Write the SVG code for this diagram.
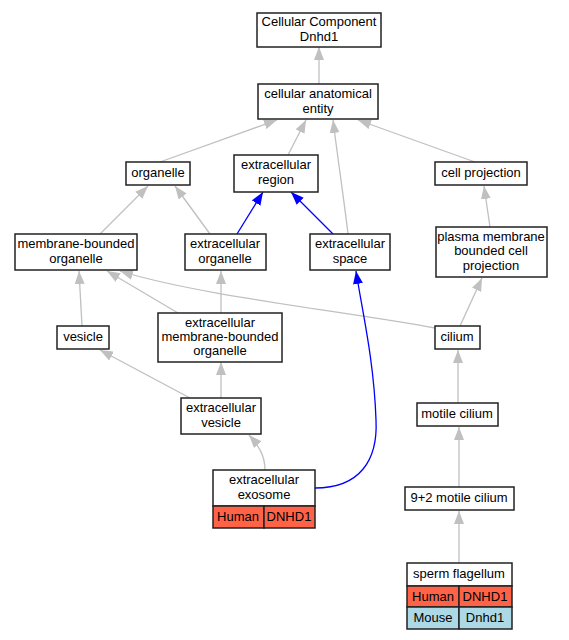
<svg xmlns="http://www.w3.org/2000/svg" width="569" height="640" viewBox="0 0 569 640">
<defs>
<marker id="ag" viewBox="0 0 13 10" refX="13" refY="5" markerWidth="13" markerHeight="10" markerUnits="userSpaceOnUse" orient="auto"><path d="M0,0 L13,5 L0,10 z" fill="#c0c0c0"/></marker>
<marker id="ab" viewBox="0 0 13 10" refX="13" refY="5" markerWidth="13" markerHeight="10" markerUnits="userSpaceOnUse" orient="auto"><path d="M0,0 L13,5 L0,10 z" fill="#0000ff"/></marker>
</defs>
<style>
.n rect{fill:#fff;stroke:#222;stroke-width:1.5}
text{font-family:"Liberation Sans",Arial,sans-serif;font-size:13px;text-anchor:middle;fill:#000}
.g{fill:none;stroke:#c0c0c0;stroke-width:1.3;marker-end:url(#ag)}
.b{fill:none;stroke:#0000ff;stroke-width:1.3;marker-end:url(#ab)}
rect.h{fill:#ff6347}
rect.m{fill:#add8e6}
</style>
<rect width="569" height="640" fill="#fff"/>
<g id="edges">
<path class="g" d="M319,84 L319,47"/>
<path class="g" d="M160,162 L277,120"/>
<path class="g" d="M288,155 L306,120"/>
<path class="g" d="M348,234 C344,200 338,160 333,120"/>
<path class="g" d="M475,162 L358,120"/>
<path class="g" d="M100,234 L148,186"/>
<path class="g" d="M210,234 L175,186"/>
<path class="b" d="M237,234 L263,192"/>
<path class="b" d="M333,234 L291,192"/>
<path class="g" d="M490,227 L484,186"/>
<path class="g" d="M82,326 L79,271"/>
<path class="g" d="M178,313 L107,271"/>
<path class="g" d="M435,328 C350,312 200,296 120,271"/>
<path class="g" d="M221,313 L221,271"/>
<path class="g" d="M460,326 L482,278"/>
<path class="g" d="M190,398 L100,350"/>
<path class="g" d="M221,398 L221,362"/>
<path class="g" d="M458,403 L458,350"/>
<path class="g" d="M265,470 C265,455 258,445 249,435"/>
<path class="b" d="M315,488 C360,488 378,460 376,420 C374,360 362,310 356,271"/>
<path class="g" d="M459,487 L459,427"/>
<path class="g" d="M459,563 L459,511"/>
</g>
<g id="n_cc" class="n"><rect x="257" y="13" width="124" height="34"/><text x="319" y="26">Cellular Component</text><text x="319" y="41">Dnhd1</text></g>
<g id="n_cae" class="n"><rect x="258" y="84" width="120" height="35"/><text x="318" y="98">cellular anatomical</text><text x="318" y="113">entity</text></g>
<g id="n_org" class="n"><rect x="126" y="162" width="64" height="23"/><text x="158" y="177">organelle</text></g>
<g id="n_er" class="n"><rect x="234" y="155" width="84" height="37"/><text x="276" y="169">extracellular</text><text x="276" y="184">region</text></g>
<g id="n_cp" class="n"><rect x="435" y="162" width="92" height="23"/><text x="481" y="177">cell projection</text></g>
<g id="n_mbo" class="n"><rect x="15" y="234" width="122" height="36"/><text x="76" y="248">membrane-bounded</text><text x="76" y="263">organelle</text></g>
<g id="n_eo" class="n"><rect x="185" y="234" width="81" height="36"/><text x="225" y="248">extracellular</text><text x="225" y="263">organelle</text></g>
<g id="n_es" class="n"><rect x="310" y="234" width="80" height="36"/><text x="350" y="248">extracellular</text><text x="350" y="263">space</text></g>
<g id="n_pm" class="n"><rect x="436" y="227" width="111" height="50"/><text x="491" y="241">plasma membrane</text><text x="491" y="255">bounded cell</text><text x="491" y="270">projection</text></g>
<g id="n_ves" class="n"><rect x="57" y="326" width="52" height="23"/><text x="83" y="341">vesicle</text></g>
<g id="n_embo" class="n"><rect x="158" y="313" width="124" height="49"/><text x="220" y="327">extracellular</text><text x="220" y="341">membrane-bounded</text><text x="220" y="355">organelle</text></g>
<g id="n_cil" class="n"><rect x="435" y="326" width="45" height="23"/><text x="457" y="341">cilium</text></g>
<g id="n_ev" class="n"><rect x="181" y="398" width="80" height="36"/><text x="221" y="412">extracellular</text><text x="221" y="427">vesicle</text></g>
<g id="n_mc" class="n"><rect x="417" y="403" width="81" height="23"/><text x="457" y="418">motile cilium</text></g>
<g id="n_exo" class="n"><rect x="213" y="470" width="102" height="36"/><text x="264" y="484">extracellular</text><text x="264" y="499">exosome</text>
<rect class="h" x="213" y="506" width="51" height="22"/><rect class="h" x="264" y="506" width="51" height="22"/><text x="238" y="521">Human</text><text x="289" y="521">DNHD1</text></g>
<g id="n_92" class="n"><rect x="405" y="487" width="109" height="23"/><text x="459" y="502">9+2 motile cilium</text></g>
<g id="n_sf" class="n"><rect x="407" y="563" width="105" height="23"/><text x="459" y="578">sperm flagellum</text>
<rect class="h" x="407" y="586" width="52" height="21"/><rect class="h" x="459" y="586" width="53" height="21"/><text x="433" y="601">Human</text><text x="485" y="601">DNHD1</text>
<rect class="m" x="407" y="607" width="52" height="22"/><rect class="m" x="459" y="607" width="53" height="22"/><text x="433" y="622">Mouse</text><text x="485" y="622">Dnhd1</text></g>
</svg>
